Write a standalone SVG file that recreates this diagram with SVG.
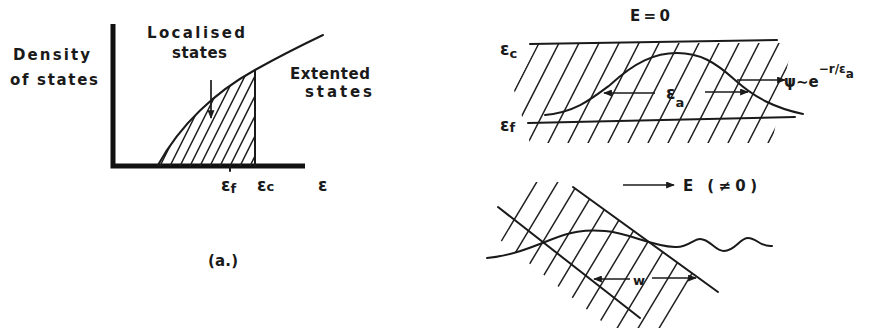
<svg xmlns="http://www.w3.org/2000/svg" width="883" height="329" viewBox="0 0 883 329">
<style>
.ln{fill:none;stroke:#1a1a1a;stroke-width:2;stroke-linecap:round}
.ax{fill:none;stroke:#111;stroke-width:5}
.h{fill:none;stroke:#222;stroke-width:1.5}
.ar{fill:none;stroke:#1a1a1a;stroke-width:1.7;marker-end:url(#ah)}
text{font-family:"DejaVu Sans","Liberation Sans",sans-serif;fill:#1a1a1a;font-size:15px;font-weight:bold}
.sm{font-size:13px}
.md{font-size:15px}
.ep{font-size:17px}
</style>
<defs>
<marker id="ah" viewBox="0 0 10 8" refX="9" refY="4" markerWidth="10" markerHeight="7" markerUnits="userSpaceOnUse" orient="auto"><path d="M0,0 L10,4 L0,8 Z" fill="#1a1a1a"/></marker>
<clipPath id="c1"><path d="M158,166 C180,125 215,92 255,70 L255,166 Z"/></clipPath>
<clipPath id="c2"><polygon points="538,43 792,43 772,143 530,143 514,90"/></clipPath>
<clipPath id="c3"><polygon points="535,182 572,182 573,187 706,283 668,328 610,328 500,240"/></clipPath>
</defs>

<g id="panel-a">
<path class="ax" d="M113,24 L113,166 L305,166"/>
<path class="h" clip-path="url(#c1)" d="M140,166 l55,-110 M150,166 l55,-110 M160,166 l55,-110 M170,166 l55,-110 M180,166 l55,-110 M190,166 l55,-110 M200,166 l55,-110 M210,166 l55,-110 M220,166 l55,-110 M230,166 l55,-110 M240,166 l55,-110 M250,166 l55,-110"/>
<path class="ln" d="M158,165 C180,125 215,92 255,70 C280,56 300,46 323,35"/>
<path class="ln" d="M255,70 L255,166"/>
<path class="ln" d="M230,166 L230,171"/>
<text x="13" y="60" textLength="77">Density</text>
<text x="10" y="85" textLength="88">of states</text>
<text x="147" y="38" textLength="98">Localised</text>
<text x="172" y="58" textLength="55">states</text>
<text x="290" y="79" textLength="80">Extented</text>
<text x="305" y="97" textLength="67">states</text>
<text x="221" y="191" class="ep">ε<tspan class="sm" dy="2">f</tspan></text>
<text x="257" y="191" class="ep">ε<tspan class="sm">c</tspan></text>
<text x="318" y="191" class="ep">ε</text>
<text x="208" y="266" class="md" textLength="30">(a.)</text>
</g>

<g id="panel-b-top">
<text x="630" y="21" class="md" textLength="40">E=0</text>
<path class="h" clip-path="url(#c2)" d="M487,145 l53,-104 M507,145 l53,-104 M527,145 l53,-104 M547,145 l53,-104 M567,145 l53,-104 M587,145 l53,-104 M607,145 l53,-104 M627,145 l53,-104 M647,145 l53,-104 M667,145 l53,-104 M687,145 l53,-104 M707,145 l53,-104 M727,145 l53,-104 M747,145 l53,-104 M767,145 l53,-104 M787,145 l53,-104"/>
<path class="ln" d="M530,44 L777,40"/>
<path class="ln" d="M528,123 L795,117"/>
<path class="ln" d="M545,115 C575,112 590,100 610,85 C635,62 655,53 677,53 C700,53 715,62 735,80 C755,98 775,108 803,114"/>
<text x="500" y="55" class="ep">ε<tspan class="sm" dy="3">c</tspan></text>
<text x="500" y="131" class="ep">ε<tspan class="sm" dy="1">f</tspan></text>
<text x="666" y="99" class="ep">ε<tspan class="sm" dy="8">a</tspan></text>
<text x="784" y="87" font-size="15">ψ∼e<tspan dy="-14" font-size="12">−r/ε</tspan><tspan dy="5" font-size="12">a</tspan></text>
</g>

<g id="panel-b-bottom">
<path class="h" clip-path="url(#c3)" d="M448,330 l90,-150 M469,330 l90,-150 M490,330 l90,-150 M511,330 l90,-150 M532,330 l90,-150 M553,330 l90,-150 M574,330 l90,-150 M595,330 l90,-150 M616,330 l90,-150 M637,330 l90,-150 M658,330 l90,-150 M679,330 l90,-150 M700,330 l90,-150"/>
<path class="ln" d="M573,187 L718,292"/>
<path class="ln" d="M498,207 L640,318"/>
<path class="ln" d="M487,258 C510,256 530,248 550,240 C570,232 585,229 605,231 C630,233 650,246 675,247 C688,248 693,239 700,239 C710,239 715,251 724,251 C735,251 740,238 748,238 C757,238 760,247 772,246"/>
<text x="683" y="191" class="md" textLength="74">E (≠0)</text>
<text x="633" y="285" class="sm">w</text>
</g>

<g id="connectors">
<path class="ar" d="M211,80 L211,118"/>
<path class="ar" d="M655,93 L604,93"/>
<path class="ar" d="M705,92 L748,92"/>
<path class="ar" d="M737,80 L785,80"/>
<path class="ar" d="M623,185 L674,185"/>
<path class="ar" d="M630,279 L594,279"/>
<path class="ar" d="M652,278 L696,278"/>
</g>
</svg>
